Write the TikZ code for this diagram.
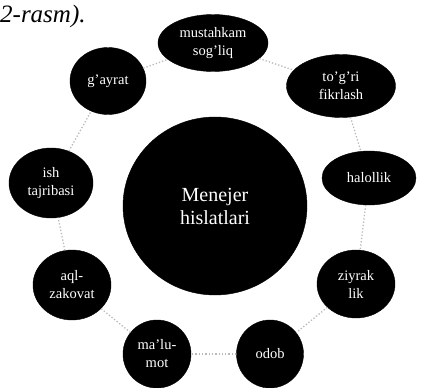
\documentclass[tikz,border=0pt]{standalone}
\usepackage{fontspec}
\setmainfont{Liberation Serif}
\usetikzlibrary{shapes.geometric}
\begin{document}
\begin{tikzpicture}[x=1pt, y=-1pt,
  trait/.style={draw=black, fill=black, ellipse, inner sep=0pt, text=white, align=center, font=\fontsize{14.5}{18}\selectfont},
  link/.style={gray!55, dotted, line width=1.3pt}]
  \useasboundingbox (0,0) rectangle (426,388);
  \node[anchor=base west, inner sep=0pt, font=\fontsize{25}{27}\selectfont\itshape] (cap) at (0,23) {2-rasm).};
  \node[trait, minimum width=184pt, minimum height=178pt, font=\fontsize{20}{23}\selectfont] (hub) at (215,206) {Menejer\\hislatlari};
  \node[trait, minimum width=110pt, minimum height=57pt] (t1) at (213,43) {mustahkam\\sog'liq};
  \node[trait, minimum width=109pt, minimum height=63pt] (t2) at (341,86) {to'g'ri\\fikrlash};
  \node[trait, minimum width=94pt, minimum height=54pt] (t3) at (369,178) {halollik};
  \node[trait, minimum width=78pt, minimum height=68pt] (t4) at (356,284) {ziyrak\\lik};
  \node[trait, minimum width=67pt, minimum height=68pt] (t5) at (270,354) {odob};
  \node[trait, minimum width=68pt, minimum height=68pt] (t6) at (157,354) {ma'lu-\\mot};
  \node[trait, minimum width=78pt, minimum height=70pt] (t7) at (72,285) {aql-\\zakovat};
  \node[trait, minimum width=84pt, minimum height=70pt] (t8) at (51,183) {ish\\tajribasi};
  \node[trait, minimum width=76pt, minimum height=67pt] (t9) at (108,81) {g'ayrat};
  \draw[link] (t1) -- (t2);
  \draw[link] (t2) -- (t3);
  \draw[link] (t3) -- (t4);
  \draw[link] (t4) -- (t5);
  \draw[link] (t5) -- (t6);
  \draw[link] (t6) -- (t7);
  \draw[link] (t7) -- (t8);
  \draw[link] (t8) -- (t9);
  \draw[link] (t9) -- (t1);
\end{tikzpicture}
\end{document}
